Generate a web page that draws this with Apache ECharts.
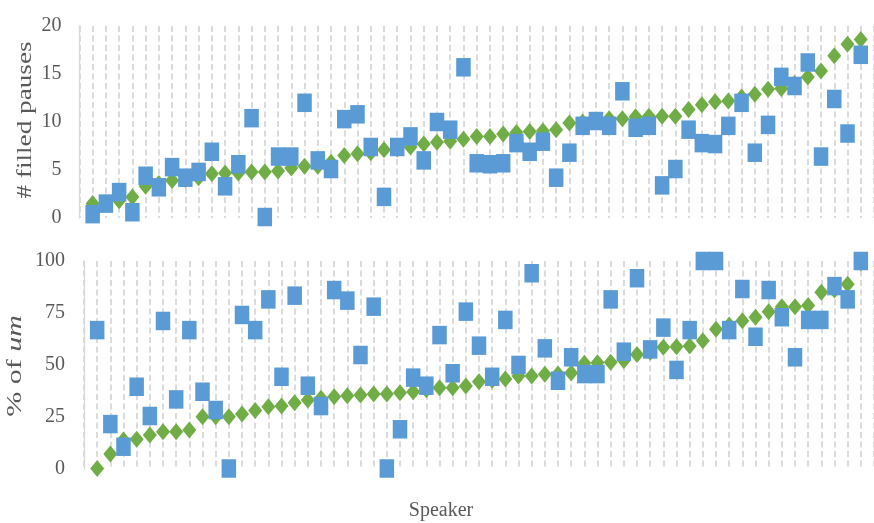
<!DOCTYPE html>
<html>
<head>
<meta charset="utf-8">
<script src="https://cdn.jsdelivr.net/npm/echarts@6/dist/echarts.min.js"></script>
<style>
  html, body { margin: 0; padding: 0; background: #fff; }
  #chart { width: 874px; height: 523px; }
</style>
</head>
<body>
<div id="chart"></div>
<script>
// speakers 1..59, sorted by the green series
var speakers = [];
for (var s = 1; s <= 59; s++) speakers.push(s);

// top panel: # filled pauses
var pausesGreen = [1.5, 1.6, 1.8, 2.2, 3.3, 3.6, 3.9, 4.0, 4.2, 4.6, 4.7, 4.7, 4.8, 4.8, 4.9,
  5.2, 5.4, 5.4, 5.8, 6.5, 6.7, 6.8, 7.1, 7.2, 7.4, 7.7, 7.9, 8.0, 8.2, 8.5,
  8.5, 8.75, 8.9, 9.0, 9.05, 9.2, 9.9, 10.0, 10.1, 10.35, 10.35, 10.55, 10.6, 10.6, 10.6,
  11.3, 11.8, 12.1, 12.2, 12.6, 12.9, 13.4, 13.5, 14.0, 14.7, 15.3, 16.9, 18.1, 18.6];
var pausesBlue = [0.4, 1.5, 2.7, 0.6, 4.4, 3.2, 5.3, 4.2, 4.8, 6.9, 3.3, 5.6, 10.4, 0.1, 6.4,
  6.4, 12.0, 6.0, 5.1, 10.3, 10.8, 7.4, 2.2, 7.4, 8.5, 6.0, 10.0, 9.2, 15.7, 5.7,
  5.6, 5.7, 7.8, 6.9, 7.95, 4.2, 6.8, 9.6, 10.1, 9.6, 13.2, 9.4, 9.6, 3.4, 5.1,
  9.2, 7.8, 7.7, 9.6, 12.0, 6.8, 9.7, 14.7, 13.75, 16.2, 6.4, 12.4, 8.8, 17.0];

// bottom panel: % of um
var umGreen = [0, 7, 13.7, 14.1, 16.1, 17.7, 17.7, 18.6, 25.0, 25.0, 25.0, 26.3, 27.9, 29.8, 30.1,
  31.7, 33.0, 33.8, 34.6, 35.1, 35.4, 35.9, 35.9, 36.5, 37.0, 38.0, 38.9, 38.9, 39.8, 41.8,
  42.5, 43.1, 44.6, 44.6, 45.4, 45.6, 46.0, 50.7, 51.0, 51.2, 52.0, 55.0, 56.0, 58.4, 58.7,
  59.0, 61.6, 67.1, 69.2, 71.2, 72.9, 75.6, 78.0, 78.0, 78.5, 84.9, 86.0, 88.8, 99];
var umBlue = [66.7, 21.4, 10.5, 39.4, 25.3, 71.1, 33.3, 66.7, 37.0, 28.2, 0, 74.0, 66.7, 81.5, 44.2,
  83.3, 39.9, 30.1, 86.0, 80.9, 54.7, 78.0, 0, 18.9, 43.8, 39.9, 64.3, 45.9, 75.6, 59.2,
  44.2, 71.6, 49.9, 94.1, 57.9, 42.3, 53.6, 45.5, 45.5, 81.5, 56.3, 91.7, 57.4, 67.9, 47.5,
  66.7, 100, 100, 66.7, 86.5, 63.5, 86.0, 72.9, 53.6, 71.6, 71.6, 87.9, 81.5, 100];

var pausesTicks = [0, 5, 10, 15, 20];
var umTicks = [0, 25, 50, 75, 100];

var BLUE = '#5B9BD5';
var GREEN = '#70AD47';
var GREY = '#595959';
var SERIF = 'Liberation Serif';

function pairs(vals) {
  return vals.map(function (v, i) { return [speakers[i], v]; });
}

function speakerAxis(idx) {
  return {
    type: 'value', gridIndex: idx, min: 0, max: 60, interval: 1,
    axisLine: { show: false }, axisTick: { show: false }, axisLabel: { show: false },
    splitLine: { show: true, lineStyle: { color: '#D3D3D3', width: 1.6, type: [6, 3.5] } }
  };
}

function valueAxis(idx, ticks, margin) {
  return {
    type: 'value', gridIndex: idx,
    min: ticks[0], max: ticks[ticks.length - 1], interval: ticks[1] - ticks[0],
    axisLine: { show: true, lineStyle: { color: '#D9D9D9', width: 1.3 } },
    axisTick: { show: false },
    splitLine: { show: false },
    axisLabel: { color: GREY, fontFamily: SERIF, fontSize: 20, margin: margin }
  };
}

// rotated axis title, stretched along its length like the original picture
function axisTitle(text, x, y, stretch) {
  return {
    type: 'text', x: x, y: y, rotation: Math.PI / 2, scaleX: stretch, scaleY: 1,
    style: {
      text: text, fill: GREY, font: '20px "Liberation Serif"',
      textAlign: 'center', textVerticalAlign: 'middle',
      rich: { i: { fill: GREY, fontFamily: SERIF, fontSize: 20, fontStyle: 'italic' } }
    }
  };
}

function markers(idx, vals, color, symbol, size) {
  return {
    type: 'scatter', xAxisIndex: idx, yAxisIndex: idx,
    data: pairs(vals), symbol: symbol, symbolSize: size, clip: false,
    itemStyle: { color: color, opacity: 1 },
    emphasis: { disabled: true }, animation: false
  };
}

var chart = echarts.init(document.getElementById('chart'), null, { renderer: 'canvas' });
chart.setOption({
  backgroundColor: '#fff',
  animation: false,
  grid: [
    { left: 79.4, top: 26, width: 800, height: 192 },
    { left: 84, top: 261, width: 800, height: 207.5 }
  ],
  xAxis: [speakerAxis(0), speakerAxis(1)],
  yAxis: [valueAxis(0, pausesTicks, 18), valueAxis(1, umTicks, 19)],
  graphic: [
    axisTitle('# filled pauses', 26, 120, 1.36),
    axisTitle('% of {i|um}', 16, 366, 1.5),
    {
      type: 'text', x: 441, y: 511,
      style: { text: 'Speaker', font: '20px "Liberation Serif"', fill: GREY, textAlign: 'center', textVerticalAlign: 'middle' }
    }
  ],
  series: [
    markers(0, pausesGreen, GREEN, 'diamond', [14, 17]),
    markers(0, pausesBlue, BLUE, 'rect', [14.5, 18.5]),
    markers(1, umGreen, GREEN, 'diamond', [14, 17]),
    markers(1, umBlue, BLUE, 'rect', [14.5, 18.5])
  ]
});
</script>
</body>
</html>
